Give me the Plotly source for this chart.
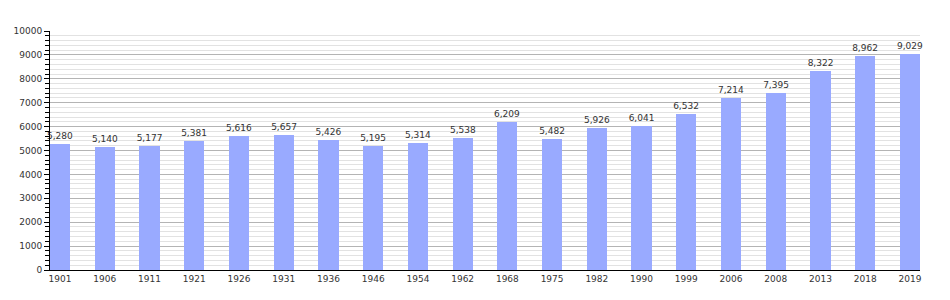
import plotly.graph_objects as go

years = ["1901", "1906", "1911", "1921", "1926", "1931", "1936", "1946", "1954", "1962",
         "1968", "1975", "1982", "1990", "1999", "2006", "2008", "2013", "2018", "2019"]
population = [5280, 5140, 5177, 5381, 5616, 5657, 5426, 5195, 5314, 5538,
              6209, 5482, 5926, 6041, 6532, 7214, 7395, 8322, 8962, 9029]
labels = [f"{v:,}" for v in population]

FONT = "DejaVu Sans, Verdana, sans-serif"

fig = go.Figure(go.Bar(
    x=years, y=population,
    marker=dict(color="#99aaff", line=dict(width=0)),
    width=0.45,
    text=labels, textposition="outside", cliponaxis=False,
    constraintext="none",
    textfont=dict(family=FONT, size=9, color="#333333"),
    hoverinfo="x+y",
))

fig.update_layout(
    width=950, height=300,
    margin=dict(l=50, r=30, t=31, b=30),
    paper_bgcolor="white", plot_bgcolor="white",
    showlegend=False, bargap=0,
    font=dict(family=FONT, size=9, color="#333333"),
)
fig.update_xaxes(
    type="category", range=[-0.225, 19.225],
    showgrid=False, showline=True, linecolor="black", linewidth=1,
    ticks="", tickfont=dict(family=FONT, size=9, color="#333333"),
    zeroline=False,
)
fig.update_yaxes(
    range=[0, 10000], dtick=1000, tick0=0,
    showgrid=True, gridcolor="#b4b4b4", gridwidth=1,
    showline=True, linecolor="black", linewidth=1,
    ticks="outside", ticklen=5, tickcolor="black", tickwidth=1,
    tickformat="d",
    tickfont=dict(family=FONT, size=9, color="#333333"),
    zeroline=False,
    minor=dict(dtick=200, showgrid=True, gridcolor="#e2e2e2", gridwidth=1,
               ticks="outside", ticklen=4, tickcolor="black"),
)

fig.write_html("out.html")
